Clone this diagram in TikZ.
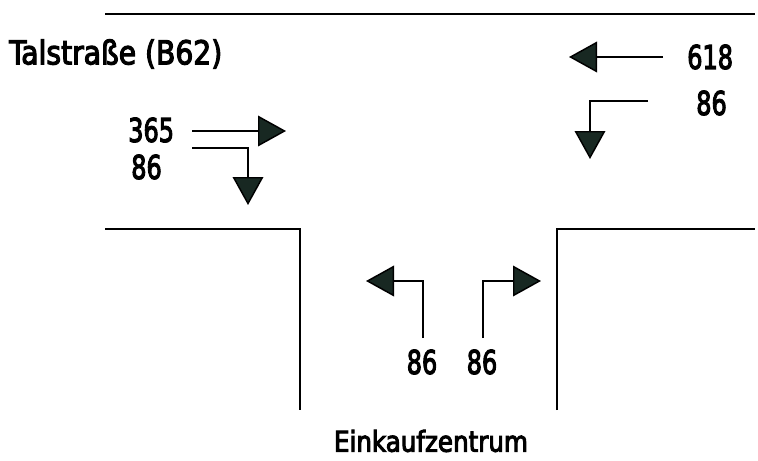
\documentclass[tikz,border=0pt]{standalone}
\usepackage{fontspec}
\setmainfont{DejaVu Sans Condensed}
\newfontfamily\signfont{DejaVu Sans Condensed}[FakeBold=3.5]
\usetikzlibrary{arrows.meta}

\definecolor{headcol}{RGB}{24,40,34}

\begin{document}
\begin{tikzpicture}[x=0.75pt, y=-0.75pt,
        road/.style={line width=1.3pt},
        flow/.style={line width=1.1pt, -{Triangle[length=21pt, width=23pt, fill=headcol]}},
        lbl/.style={font=\signfont\fontsize{23.5}{26}\selectfont, inner sep=0pt, yscale=1.05, transform shape},
        num/.style={font=\signfont\fontsize{20}{24}\selectfont, inner sep=0pt, yscale=1.23, transform shape}]
     \useasboundingbox (0,0) rectangle (758,461);
     % edges of the main road and the side entry
     \draw[road] (105,14) -- (755,14);
     \draw[road] (105,229) -- (300,229) -- (300,410);
     \draw[road] (557,410) -- (557,229) -- (755,229);
     % street names
     \node[lbl, anchor=west] (tal) at (9,54) {Talstraße (B62)};
     \node[lbl, font=\signfont\fontsize{20.5}{24}\selectfont] (ekz) at (431,441) {Einkaufzentrum};
     % traffic from the west
     \node[num, anchor=west] (w1) at (128,130) {365};
     \node[num, anchor=west] (w2) at (131,167) {86};
     \coordinate (w1s) at (192,131);
     \coordinate (w1e) at (286,131);
     \coordinate (w2s) at (192,148);
     \coordinate (w2e) at (248,205);
     \draw[flow] (w1s) -- (w1e);
     \draw[flow] (w2s) -| (w2e);
     % traffic from the east
     \node[num, anchor=west] (e1) at (687,57) {618};
     \node[num, anchor=west] (e2) at (696,103) {86};
     \coordinate (e1s) at (663,57);
     \coordinate (e1e) at (569,57);
     \coordinate (e2s) at (648,101);
     \coordinate (e2e) at (590,159);
     \draw[flow] (e1s) -- (e1e);
     \draw[flow] (e2s) -| (e2e);
     % traffic out of the shopping centre
     \node[num] (s1) at (422,362) {86};
     \node[num] (s2) at (482,362) {86};
     \coordinate (s1s) at (423,338);
     \coordinate (s1e) at (366,281);
     \coordinate (s2s) at (483,338);
     \coordinate (s2e) at (541,281);
     \draw[flow] (s1s) |- (s1e);
     \draw[flow] (s2s) |- (s2e);
\end{tikzpicture}
\end{document}
